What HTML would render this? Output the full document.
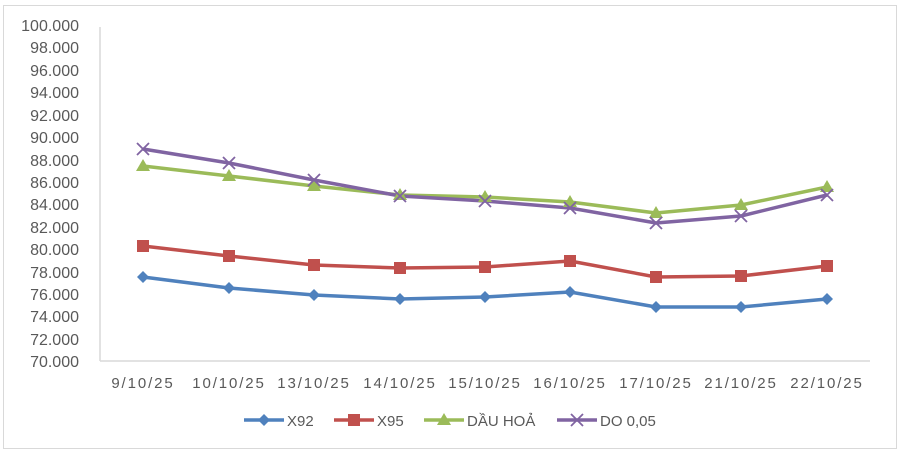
<!DOCTYPE html>
<html><head><meta charset="utf-8"><style>
body{margin:0;background:#fff}
svg text{font-family:"Liberation Sans",sans-serif;fill:#595959}
</style></head><body>
<svg width="900" height="455" xmlns="http://www.w3.org/2000/svg">
<rect x="3.5" y="5.5" width="893" height="443" fill="#fff" stroke="#d9d9d9" stroke-width="1"/>
<line x1="100" y1="27" x2="100" y2="361" stroke="#d9d9d9" stroke-width="1.5"/>
<line x1="100" y1="361" x2="870" y2="361" stroke="#d9d9d9" stroke-width="1.5"/>
<g font-size="16" text-anchor="end">
<text x="79" y="31">100.000</text><text x="79" y="53">98.000</text><text x="79" y="76">96.000</text><text x="79" y="98">94.000</text><text x="79" y="121">92.000</text><text x="79" y="143">90.000</text><text x="79" y="166">88.000</text><text x="79" y="188">86.000</text><text x="79" y="210">84.000</text><text x="79" y="233">82.000</text><text x="79" y="255">80.000</text><text x="79" y="278">78.000</text><text x="79" y="300">76.000</text><text x="79" y="322">74.000</text><text x="79" y="345">72.000</text><text x="79" y="367">70.000</text>
</g>
<g font-size="15" text-anchor="middle" letter-spacing="1.9">
<text x="143" y="388">9/10/25</text><text x="229" y="388">10/10/25</text><text x="314" y="388">13/10/25</text><text x="400" y="388">14/10/25</text><text x="485" y="388">15/10/25</text><text x="570" y="388">16/10/25</text><text x="656" y="388">17/10/25</text><text x="741" y="388">21/10/25</text><text x="827" y="388">22/10/25</text>
</g>
<g fill="none" stroke-width="3.5" stroke-linejoin="round">
<polyline stroke="#4f81bd" points="143,277 229,288 314,295 400,299 485,297 570,292 656,307 741,307 827,299"/>
<polyline stroke="#c0504d" points="143,246 229,256 314,265 400,268 485,267 570,261 656,277 741,276 827,266"/>
<polyline stroke="#9bbb59" points="143,166 229,176 314,186 400,195 485,197 570,202 656,213 741,205 827,187"/>
<polyline stroke="#8064a2" points="143,149 229,163 314,180 400,196 485,201 570,208 656,223 741,216 827,195"/>
</g>
<g fill="#4f81bd">
<path d="M143,271l6,6-6,6-6-6z"/><path d="M229,282l6,6-6,6-6-6z"/><path d="M314,289l6,6-6,6-6-6z"/><path d="M400,293l6,6-6,6-6-6z"/><path d="M485,291l6,6-6,6-6-6z"/><path d="M570,286l6,6-6,6-6-6z"/><path d="M656,301l6,6-6,6-6-6z"/><path d="M741,301l6,6-6,6-6-6z"/><path d="M827,293l6,6-6,6-6-6z"/>
</g>
<g fill="#c0504d">
<rect x="137" y="240" width="12" height="12"/><rect x="223" y="250" width="12" height="12"/><rect x="308" y="259" width="12" height="12"/><rect x="394" y="262" width="12" height="12"/><rect x="479" y="261" width="12" height="12"/><rect x="564" y="255" width="12" height="12"/><rect x="650" y="271" width="12" height="12"/><rect x="735" y="270" width="12" height="12"/><rect x="821" y="260" width="12" height="12"/>
</g>
<g fill="#9bbb59">
<path d="M143,159l7,12h-14z"/><path d="M229,169l7,12h-14z"/><path d="M314,179l7,12h-14z"/><path d="M400,188l7,12h-14z"/><path d="M485,190l7,12h-14z"/><path d="M570,195l7,12h-14z"/><path d="M656,206l7,12h-14z"/><path d="M741,198l7,12h-14z"/><path d="M827,180l7,12h-14z"/>
</g>
<g stroke="#8064a2" stroke-width="1.8">
<path d="M137,143l12,12M149,143l-12,12"/><path d="M223,157l12,12M235,157l-12,12"/><path d="M308,174l12,12M320,174l-12,12"/><path d="M394,190l12,12M406,190l-12,12"/><path d="M479,195l12,12M491,195l-12,12"/><path d="M564,202l12,12M576,202l-12,12"/><path d="M650,217l12,12M662,217l-12,12"/><path d="M735,210l12,12M747,210l-12,12"/><path d="M821,189l12,12M833,189l-12,12"/>
</g>
<g font-size="15">
<line x1="244" y1="420" x2="284" y2="420" stroke="#4f81bd" stroke-width="3.5"/><path d="M264,414l6,6-6,6-6-6z" fill="#4f81bd"/><text x="287" y="426">X92</text>
<line x1="334" y1="420" x2="374" y2="420" stroke="#c0504d" stroke-width="3.5"/><rect x="348" y="414" width="12" height="12" fill="#c0504d"/><text x="377" y="426">X95</text>
<line x1="424" y1="420" x2="464" y2="420" stroke="#9bbb59" stroke-width="3.5"/><path d="M444,413l7,12h-14z" fill="#9bbb59"/><text x="467" y="426">DẦU HOẢ</text>
<line x1="557" y1="420" x2="597" y2="420" stroke="#8064a2" stroke-width="3.5"/><path d="M571,414l12,12M583,414l-12,12" stroke="#8064a2" stroke-width="1.8"/><text x="600" y="426">DO 0,05</text>
</g>
</svg>
</body></html>
